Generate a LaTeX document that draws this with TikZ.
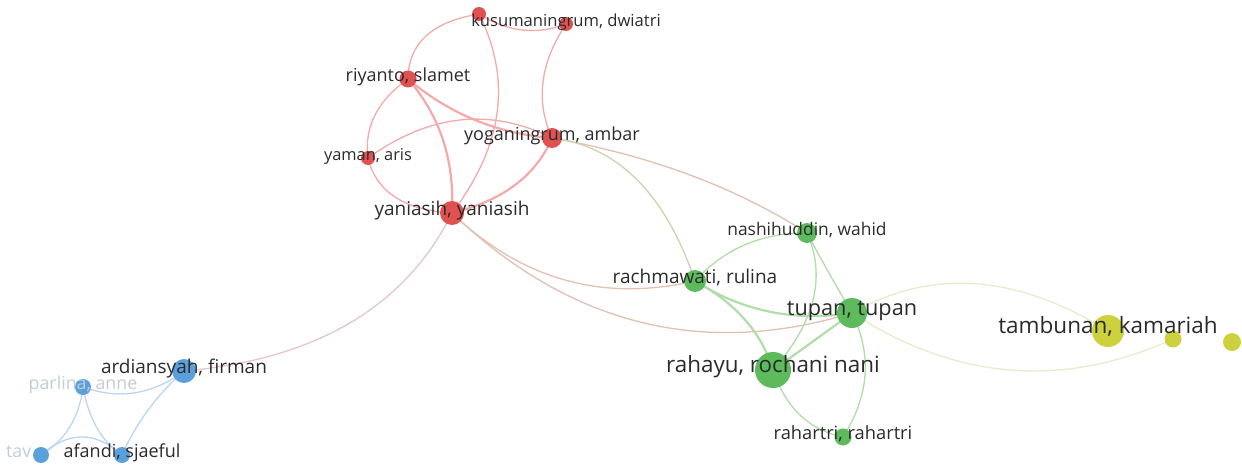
\documentclass[tikz,border=0pt]{standalone}
\usepackage{fontspec}
\setmainfont{Open Sans}
\usetikzlibrary{calc,backgrounds}
\definecolor{nred}{HTML}{E05252}
\definecolor{ngreen}{HTML}{5DBB5D}
\definecolor{nyellow}{HTML}{CDD13E}
\definecolor{nblue}{HTML}{5B9FDB}
\definecolor{ered}{HTML}{F4AAAA}
\definecolor{egreen}{HTML}{B0DEA8}
\definecolor{eblue}{HTML}{BCD6EF}
\definecolor{eyel}{HTML}{E6EDCC}
\definecolor{emix}{HTML}{E2C0B2}
\definecolor{emixg}{HTML}{CFD2B0}
\definecolor{earb}{HTML}{E4C6CC}
\definecolor{ntext}{HTML}{2B2B2B}
\definecolor{nfade}{HTML}{C3CCD8}
\newcommand\fsz[1]{\fontsize{#1}{#1}\selectfont}
\newcommand\vosedge[4]{\draw[#1] (#2.center) .. controls ($(#2.center)!0.6667!(#3)$) and ($(#4.center)!0.6667!(#3)$) .. (#4.center);}
\tikzset{
  vnode/.style={circle, inner sep=0pt, draw=none},
  rnode/.style={vnode, fill=nred},
  gnode/.style={vnode, fill=ngreen},
  ynode/.style={vnode, fill=nyellow},
  bnode/.style={vnode, fill=nblue},
  lab/.style={text=ntext, inner sep=0pt, text height=0.76em, text depth=0.18em},
  fadelab/.style={lab, text=nfade},
  ew1/.style={line width=1.3pt},
  ew2/.style={line width=2.2pt},
}
\begin{document}
\begin{tikzpicture}[x=1pt,y=-1pt]
\useasboundingbox (0,0) rectangle (1242,465);
% nodes
\node[rnode, minimum size=14] (ku1) at (479,14) {};
\node[rnode, minimum size=14] (ku2) at (566,24) {};
\node[rnode, minimum size=17] (ri) at (408,79) {};
\node[rnode, minimum size=14] (ym) at (368,158) {};
\node[rnode, minimum size=20] (yo) at (552,138) {};
\node[rnode, minimum size=24] (yn) at (452,213) {};
\node[gnode, minimum size=20] (na) at (807,233) {};
\node[gnode, minimum size=22] (ra) at (695,281) {};
\node[gnode, minimum size=30] (tu) at (852,313) {};
\node[gnode, minimum size=36] (rh) at (773,370) {};
\node[gnode, minimum size=17] (rt) at (843,437) {};
\node[ynode, minimum size=32] (ta) at (1108,331) {};
\node[ynode, minimum size=17] (y2) at (1173,339) {};
\node[ynode, minimum size=18] (y3) at (1232,342) {};
\node[bnode, minimum size=24] (ar) at (184,371) {};
\node[bnode, minimum size=16] (pa) at (83,387) {};
\node[bnode, minimum size=16] (af) at (122,455) {};
\node[bnode, minimum size=16] (tv) at (41,455) {};
% edges
\begin{pgfonlayer}{background}
\fill[white] (0,0) rectangle (1242,465);
\vosedge{ered,ew1}{ku1}{521.5,41}{ku2}
\vosedge{ered,ew1}{ku1}{408.5,25.5}{ri}
\vosedge{ered,ew1}{ku1}{528.5,112.5}{yn}
\vosedge{ered,ew1}{ku2}{527,83}{yo}
\vosedge{ered,ew1}{ri}{362,111.5}{ym}
\vosedge{ered,ew1}{ym}{380,208.5}{yn}
\vosedge{ered,ew2}{ri}{456,134}{yn}
\vosedge{ered,ew2}{ri}{470,131.5}{yo}
\vosedge{ered,ew1}{ym}{460,92}{yo}
\vosedge{ered,ew2}{yo}{528,194.5}{yn}
\vosedge{emix,ew1}{yo}{700.5,164.5}{na}
\vosedge{emixg,ew1}{yo}{650.5,150}{ra}
\vosedge{emix,ew1}{yn}{556.5,313}{ra}
\vosedge{emix,ew1}{yn}{628,381}{tu}
\vosedge{earb,ew1}{yn}{382.5,353.5}{ar}
\vosedge{egreen,ew1}{ra}{739,232.5}{na}
\vosedge{egreen,ew2}{ra}{766.5,326.5}{tu}
\vosedge{egreen,ew2}{ra}{756,314}{rh}
\vosedge{egreen,ew1}{na}{825,267}{tu}
\vosedge{egreen,ew1}{na}{836,298.5}{rh}
\vosedge{egreen,ew2}{tu}{818,338}{rh}
\vosedge{egreen,ew1}{tu}{882.5,375}{rt}
\vosedge{egreen,ew1}{rh}{792,426.5}{rt}
\vosedge{eyel,ew1}{tu}{970.5,245.5}{ta}
\vosedge{eyel,ew1}{tu}{1008,414}{y2}
\vosedge{eblue,ew1}{ar}{137,406.5}{pa}
\vosedge{eblue,ew1}{ar}{143.5,406.5}{af}
\vosedge{eblue,ew1}{pa}{91.5,435}{af}
\vosedge{eblue,ew1}{pa}{77.5,433}{tv}
\vosedge{eblue,ew1}{tv}{82,419}{af}
\end{pgfonlayer}
% labels
\node[lab, font=\fsz{16.6}] (ku2-l) at (ku2) {kusumaningrum, dwiatri};
\node[lab, font=\fsz{18}] (ri-l) at (ri) {riyanto, slamet};
\node[lab, font=\fsz{16.4}] (ym-l) at (ym) {yaman, aris};
\node[lab, font=\fsz{18}] (yo-l) at (yo) {yoganingrum, ambar};
\node[lab, font=\fsz{19}] (yn-l) at (yn) {yaniasih, yaniasih};
\node[lab, font=\fsz{17.4}] (na-l) at (na) {nashihuddin, wahid};
\node[lab, font=\fsz{19}] (ra-l) at (ra) {rachmawati, rulina};
\node[lab, font=\fsz{21.7}] (tu-l) at (tu) {tupan, tupan};
\node[lab, font=\fsz{22.4}] (rh-l) at (rh) {rahayu, rochani nani};
\node[lab, font=\fsz{18.3}] (rt-l) at (rt) {rahartri, rahartri};
\node[lab, font=\fsz{22.5}] (ta-l) at (ta) {tambunan, kamariah};
\node[lab, font=\fsz{19}] (ar-l) at (ar) {ardiansyah, firman};
\node[fadelab, font=\fsz{17.8}] (pa-l) at (pa) {parlina, anne};
\node[lab, font=\fsz{18}] (af-l) at (af) {afandi, sjaeful};
\node[fadelab, font=\fsz{17.8}, anchor=west] (tv-l) at (6,455) {tav};
\end{tikzpicture}
\end{document}
